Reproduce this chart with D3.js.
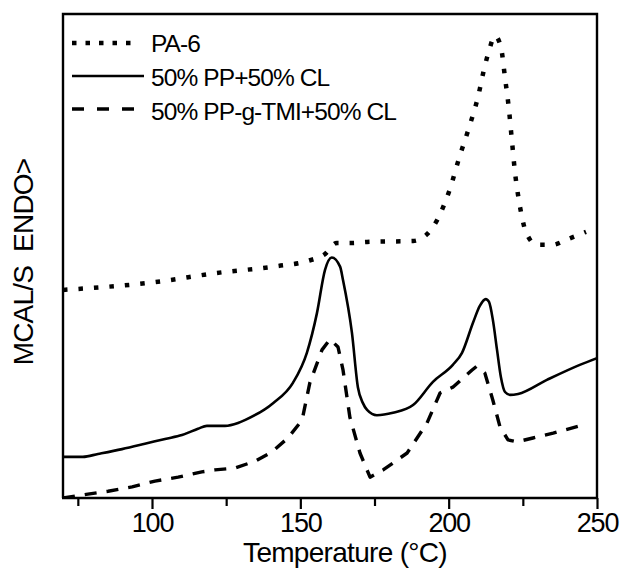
<!DOCTYPE html>
<html>
<head>
<meta charset="utf-8">
<script src="https://cdn.jsdelivr.net/npm/d3@7"></script>
<style>
  html, body { margin: 0; padding: 0; background: #fff; }
  svg { display: block; }
  text { font-family: "Liberation Sans", Arial, Helvetica, sans-serif; fill: #000; }
</style>
</head>
<body>
<svg id="chart" width="621" height="573"></svg>
<script>
// ---- Data ----
const seriesNames = ["PA-6", "50% PP+50% CL", "50% PP-g-TMI+50% CL"];

const pa6T = [70, 75.1, 101.0, 121.9, 142.1, 152.6, 158.3, 162.3, 167.4, 172.5, 188.0, 192.7, 196.1, 198.4, 200.4, 203.5, 206.8, 209.9, 212.2, 213.6, 215.6, 217.6, 219.0, 220.3, 221.3, 222.3, 223.7, 224.7, 226.0, 229.8, 234.8, 240.2, 246.3];
const pa6V = [43.0, 43.2, 44.6, 46.5, 47.9, 49.0, 50.4, 52.7, 52.7, 52.9, 53.1, 54.5, 57.4, 60.5, 63.8, 70.2, 76.4, 82.9, 89.3, 92.4, 95.5, 93.2, 86.8, 80.4, 74.0, 67.6, 61.4, 58.1, 55.0, 52.3, 52.3, 53.5, 55.0];

const ppT = [70, 76.7, 81.8, 89.9, 97.6, 104.4, 110.1, 115.5, 118.5, 124.6, 129.0, 131.3, 140.8, 147.5, 152.2, 155.6, 158.3, 160.6, 163.4, 164.4, 167.4, 169.4, 171.1, 172.5, 175.8, 181.2, 188.0, 194.7, 201.4, 204.5, 208.2, 210.5, 212.5, 213.6, 214.9, 216.3, 217.6, 219.0, 220.7, 223.4, 233.1, 244.2, 250];
const ppV = [8.5, 8.5, 9.1, 10.1, 11.2, 12.2, 13.0, 14.3, 14.9, 14.9, 15.5, 16.1, 19.6, 23.8, 30.0, 38.2, 47.1, 49.7, 47.8, 45.0, 34.1, 22.9, 19.6, 18.2, 17.1, 17.6, 19.2, 24.0, 27.5, 30.0, 36.2, 39.7, 41.1, 40.5, 36.8, 30.6, 25.0, 21.9, 21.3, 21.5, 24.4, 27.5, 28.9];

const tmiT = [70, 78.4, 85.2, 93.3, 101.0, 108.8, 116.8, 121.2, 128.0, 134.7, 140.4, 145.8, 150.6, 153.2, 157.3, 160.0, 162.7, 164.4, 166.7, 170.1, 173.5, 177.9, 186.0, 192.7, 197.1, 201.4, 207.8, 209.4, 211.2, 212.2, 214.9, 217.3, 220.0, 223.0, 228.4, 235.2, 245.3];
const tmiV = [0.0, 0.8, 1.4, 2.3, 3.5, 4.3, 5.4, 5.8, 6.2, 7.6, 9.5, 12.4, 16.1, 23.8, 30.6, 32.8, 31.2, 26.4, 16.7, 9.3, 4.3, 5.8, 9.3, 15.5, 21.7, 22.9, 26.4, 27.2, 26.4, 25.8, 20.2, 14.7, 12.0, 11.6, 12.4, 13.4, 15.1];

const xTicks = [75, 100, 125, 150, 175, 200, 225, 250];
const xTickLabels = ["", "100", "", "150", "", "200", "", "250"];
const xDomain = [70, 250];
const yDomain = [0, 100];
const xTitle = "Temperature (\u00B0C)";
const yTitle = "MCAL/S  ENDO>";

// ---- Layout ----
const svg = d3.select("#chart");
const L = 63, R = 597, T = 14, B = 498;

const x = d3.scaleLinear().domain(xDomain).range([L, R]);
const y = d3.scaleLinear().domain(yDomain).range([B, T]);

const zip = (a, b) => a.map((t, i) => [t, b[i]]);

const styles = [
  { width: 4.5, dash: "4.5,11", cap: "butt", curve: d3.curveMonotoneX },
  { width: 2.6, dash: null, cap: "round", curve: d3.curveMonotoneX },
  { width: 3.4, dash: "12,10", cap: "butt", curve: d3.curveLinear }
];
const data = [zip(pa6T, pa6V), zip(ppT, ppV), zip(tmiT, tmiV)];

// clip to plot box
svg.append("clipPath").attr("id", "clip")
  .append("rect").attr("x", L).attr("y", T).attr("width", R - L).attr("height", B - T);

const g = svg.append("g").attr("clip-path", "url(#clip)");
data.forEach((d, i) => {
  const line = d3.line()
    .x(p => x(p[0]))
    .y(p => y(p[1]))
    .curve(styles[i].curve);
  g.append("path")
    .attr("d", line(d))
    .attr("fill", "none")
    .attr("stroke", "#000")
    .attr("stroke-width", styles[i].width)
    .attr("stroke-linecap", styles[i].cap)
    .attr("stroke-linejoin", "round")
    .attr("stroke-dasharray", styles[i].dash);
});

// frame
svg.append("path")
  .attr("d", `M${L},${B}V${T}H${R}V${B}`)
  .attr("fill", "none").attr("stroke", "#000").attr("stroke-width", 2.4);

// x axis
const xAxis = d3.axisBottom(x)
  .tickValues(xTicks)
  .tickFormat((d, i) => xTickLabels[i])
  .tickSizeOuter(0)
  .tickSize(9);
const ax = svg.append("g").attr("transform", `translate(0,${B})`).call(xAxis);
ax.select(".domain").attr("stroke", "#000").attr("stroke-width", 2.6)
  .attr("d", `M${L - 1},0H${R + 1}`);
ax.selectAll(".tick line").attr("stroke", "#000").attr("stroke-width", 2.2)
  .attr("y2", (d, i) => xTickLabels[i] ? 11 : 8);
ax.selectAll(".tick text")
  .attr("y", 34).attr("dy", null)
  .style("font-size", "27px")
  .style("letter-spacing", "-1.2px")
  .style("font-family", '"Liberation Sans", Arial, sans-serif')
  .attr("fill", "#000");

// axis titles
svg.append("text")
  .attr("x", 345).attr("y", 562)
  .attr("text-anchor", "middle")
  .style("font-size", "28px")
  .style("letter-spacing", "-0.7px")
  .text(xTitle);

svg.append("text")
  .attr("transform", "translate(33,262) rotate(-90)")
  .attr("text-anchor", "middle")
  .style("font-size", "28px")
  .style("letter-spacing", "-0.8px")
  .style("white-space", "pre")
  .attr("xml:space", "preserve")
  .text(yTitle);

// legend
const legY = [43, 76, 109];
const legBase = [52, 86, 120];
const legLen = [66, 72, 62];
seriesNames.forEach((name, i) => {
  svg.append("line")
    .attr("x1", 72).attr("x2", 72 + legLen[i])
    .attr("y1", legY[i]).attr("y2", legY[i])
    .attr("stroke", "#000")
    .attr("stroke-width", styles[i].width)
    .attr("stroke-dasharray", i === 0 ? "4.5,9" : (i === 2 ? "12,13" : null));
  svg.append("text")
    .attr("x", 151).attr("y", legBase[i])
    .style("font-size", "24.5px")
    .style("letter-spacing", "-0.9px")
    .text(name);
});
</script>
</body>
</html>
